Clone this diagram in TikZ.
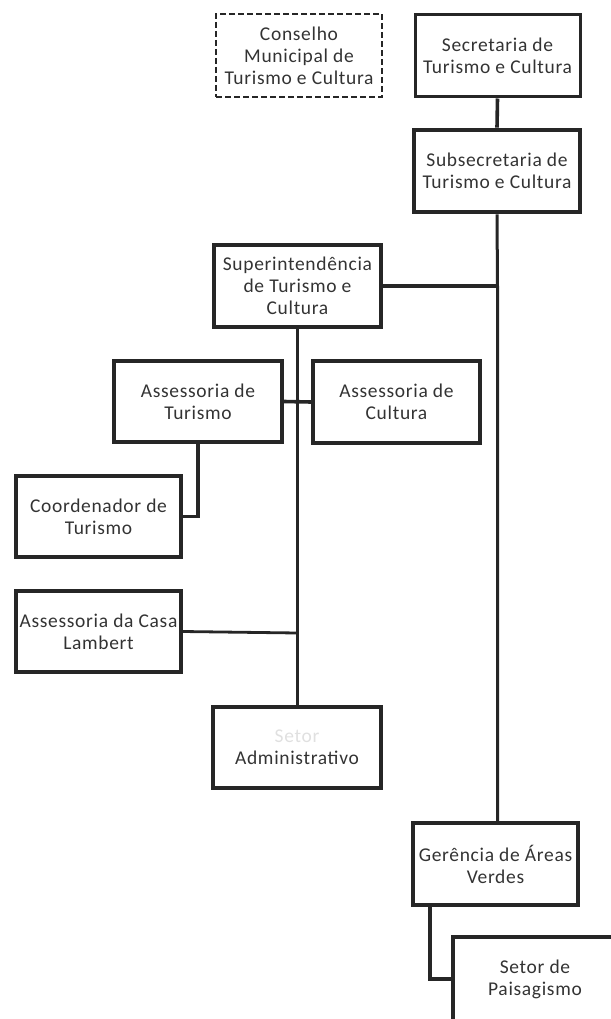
\documentclass[tikz,border=0pt]{standalone}
\usepackage{fontspec}
\setmainfont{Carlito}[LetterSpace=3.5]
\begin{document}
\begin{tikzpicture}[x=1pt,y=-1pt,
  box/.style={draw=black!85, line width=3.6pt, align=center, inner sep=0pt,
    text=black!80, font=\fontsize{19.5}{22}\selectfont},
  conn/.style={draw=black!85, line width=3.6pt}]
\useasboundingbox (0,0) rectangle (610,1019);
\node[box, dashed, dash pattern=on 6pt off 3pt, line width=2.4pt, minimum width=166, minimum height=83] (cons) at (299,55.5) {Conselho\\Municipal de\\Turismo e Cultura};
\node[box, line width=3pt, minimum width=165, minimum height=82] (sec) at (497.5,56) {Secretaria de\\Turismo e Cultura};
\node[box, line width=4.6pt, minimum width=166, minimum height=82] (sub) at (497,171) {Subsecretaria de\\Turismo e Cultura};
\node[box, minimum width=167, minimum height=82] (sup) at (297.5,286) {Superintendência\\de Turismo e\\Cultura};
\node[box, minimum width=168, minimum height=81] (atur) at (198,401.5) {Assessoria de\\Turismo};
\node[box, minimum width=167, minimum height=82] (acult) at (396.5,402) {Assessoria de\\Cultura};
\node[box, minimum width=165, minimum height=81] (coord) at (98.5,516.5) {Coordenador de\\Turismo};
\node[box, minimum width=165, minimum height=81] (casa) at (98.5,631.5) {Assessoria da Casa\\Lambert};
\node[box, minimum width=168, minimum height=81] (admin) at (297,747.5) {{\color{black!12}Setor}\\Administrativo};
\node[box, minimum width=165, minimum height=82] (ger) at (495.5,864) {Gerência de Áreas\\Verdes};
\node[box, minimum width=164, minimum height=84] (setor) at (535,979) {Setor de\\Paisagismo};

\coordinate (j1) at (497.5,287);
\coordinate (j3) at (297.5,633);

\draw[conn] (sec.south) -- (sub.north);
\draw[conn, line width=3pt] (sub.south) -- (j1) -- (j1 |- ger.north);
\draw[conn] (sup.east) -- (sup.east -| j1);
\draw[conn] (sup.south) -- (sup.south |- admin.north);
\draw[conn] (atur.east) -- (acult.west);
\draw[conn] (atur.south) |- (coord.east);
\draw[conn, line width=2.8pt] (casa.east) -- (j3);
\draw[conn] ([xshift=19pt]ger.south west) |- (setor.west);
\end{tikzpicture}
\end{document}
